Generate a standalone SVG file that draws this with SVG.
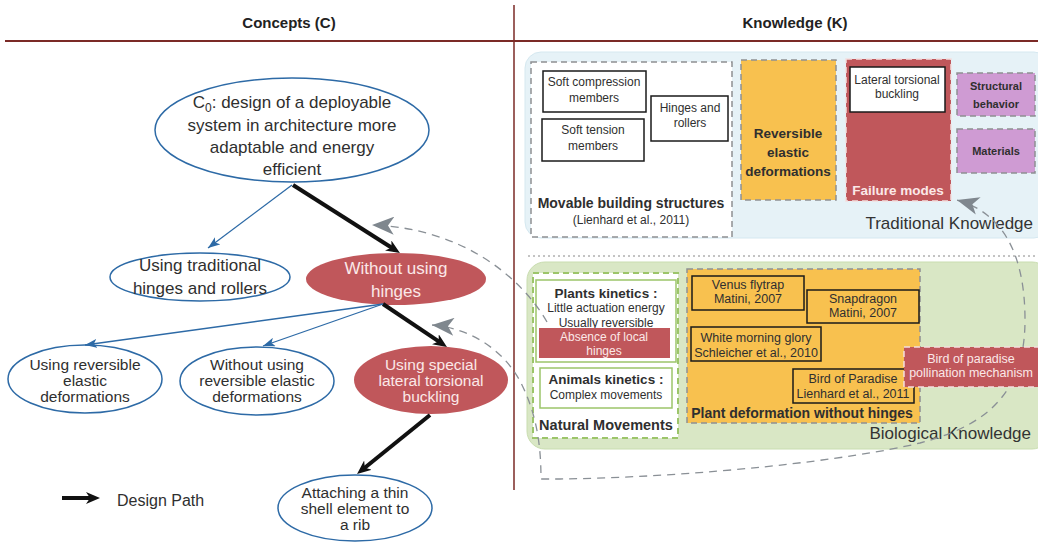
<svg xmlns="http://www.w3.org/2000/svg" width="1038" height="543" viewBox="0 0 1038 543">
<style>
text{font-family:"Liberation Sans",Arial,sans-serif;fill:#2f2f2f;text-anchor:middle}
.hd{font-size:15px;font-weight:bold;fill:#222}
.el{font-size:17px}
.el2{font-size:15.5px}
.sm{font-size:12px}
.om{font-size:12.5px}
.bd{font-size:13.5px;font-weight:bold}
.big{font-size:17px;text-anchor:end;fill:#333}
.wt{fill:#fbe8e8}
.ell{fill:#fff;stroke:#2d6aa6;stroke-width:1.5}
.ellr{fill:#c0575b;stroke:none}
.box{fill:#fff;stroke:#1a1a1a;stroke-width:1.5}
.obox{fill:#f8c14f;stroke:#1a1a1a;stroke-width:1.5}
.dg{stroke:#8e9093;stroke-width:1.5;stroke-dasharray:6 4}
.dw{stroke:#f3dede;stroke-width:1.5;stroke-dasharray:6 4}
.gbox{fill:#fff;stroke:#9cc56a;stroke-width:1.5}
.blk{stroke:#111;stroke-width:4;fill:none;marker-end:url(#mb)}
.blu{stroke:#2d6aa6;stroke-width:1.3;fill:none;marker-end:url(#mu)}
.gd{stroke:#8a9096;stroke-width:1.3;fill:none;stroke-dasharray:8 6}
</style>
<defs>
<marker id="mb" viewBox="0 0 14 12" refX="8" refY="6" markerWidth="14" markerHeight="12" markerUnits="userSpaceOnUse" orient="auto"><path d="M0,0 L14,6 L0,12 L4,6 z" fill="#111"/></marker>
<marker id="mu" viewBox="0 0 12 9" refX="12" refY="4.5" markerWidth="12" markerHeight="9" markerUnits="userSpaceOnUse" orient="auto"><path d="M0,0 L12,4.5 L0,9 L3,4.5 z" fill="#2d6aa6"/></marker>
<marker id="mg" viewBox="0 0 22 18" refX="22" refY="9" markerWidth="22" markerHeight="18" markerUnits="userSpaceOnUse" orient="auto-start-reverse"><path d="M22,9 L0,0 L6,9 L0,18 z" fill="#7f878e"/></marker>
</defs>
<rect width="1038" height="543" fill="#fff"/>

<g id="header">
<line x1="514" y1="5" x2="514" y2="490" stroke="#7b2a26" stroke-width="1.5"/>
<line x1="5" y1="41" x2="1038" y2="41" stroke="#7b2a26" stroke-width="1.8"/>
<text class="hd" x="289" y="28">Concepts (C)</text>
<text class="hd" x="795" y="28">Knowledge (K)</text>
</g>

<g id="traditional-region">
<rect x="525" y="52" width="525" height="186" rx="16" fill="#e6f2f7" stroke="#d5e8f0"/>
<text class="big" x="1033" y="229">Traditional Knowledge</text>
</g>
<line x1="528" y1="256" x2="1038" y2="256" stroke="#888" stroke-width="1" stroke-dasharray="2 3"/>
<g id="biological-region">
<rect x="527" y="262" width="523" height="187" rx="18" fill="#d9e7c5" stroke="#c9ddb0"/>
<text class="big" x="1031" y="439">Biological Knowledge</text>
</g>

<g id="movable">
<rect x="531" y="62" width="201" height="175" fill="#fff" class="dg"/>
<text class="bd" x="631" y="208" style="font-size:14px">Movable building structures</text>
<text class="sm" x="631" y="224">(Lienhard et al., 2011)</text>
</g>
<g id="soft-compression">
<rect class="box" x="543" y="71" width="103" height="41"/>
<text class="sm" x="594" y="86">Soft compression</text>
<text class="sm" x="594" y="102">members</text>
</g>
<g id="soft-tension">
<rect class="box" x="542" y="119" width="102" height="42"/>
<text class="sm" x="593" y="134">Soft tension</text>
<text class="sm" x="593" y="150">members</text>
</g>
<g id="hinges-rollers">
<rect class="box" x="651" y="96" width="77" height="45"/>
<text class="sm" x="690" y="112">Hinges and</text>
<text class="sm" x="690" y="127">rollers</text>
</g>
<g id="reversible-elastic">
<rect x="741" y="60" width="95" height="140" fill="#f8c14f" class="dg"/>
<text class="bd" x="788" y="138">Reversible</text>
<text class="bd" x="788" y="157">elastic</text>
<text class="bd" x="788" y="176">deformations</text>
</g>
<g id="failure-modes">
<rect x="846" y="59" width="105" height="142" fill="#c0575b" class="dw"/>
<text class="bd wt" x="898" y="195">Failure modes</text>
</g>
<g id="lateral-torsional">
<rect class="box" x="850" y="67" width="95" height="45"/>
<text class="sm" x="897" y="84">Lateral torsional</text>
<text class="sm" x="897" y="98">buckling</text>
</g>
<g id="structural-behavior">
<rect x="957" y="73" width="78" height="43" fill="#cf9bd3" class="dg"/>
<text class="bd" x="996" y="90" style="font-size:11px">Structural</text>
<text class="bd" x="996" y="108" style="font-size:11px">behavior</text>
</g>
<g id="materials">
<rect x="957" y="129" width="78" height="44" fill="#cf9bd3" class="dg"/>
<text class="bd" x="996" y="155" style="font-size:11px">Materials</text>
</g>

<g id="natural-movements">
<rect x="533" y="273" width="145" height="165" fill="#fff" stroke="#9cc56a" stroke-width="2" stroke-dasharray="6 4"/>
<text class="bd" x="606" y="430" style="font-size:14.5px">Natural Movements</text>
</g>
<g id="plants-kinetics">
<rect class="gbox" x="536" y="280" width="140" height="82"/>
<text class="bd" x="606" y="298">Plants kinetics :</text>
<text class="sm" x="606" y="312">Little actuation energy</text>
<text class="sm" x="606" y="327">Usually reversible</text>
</g>
<g id="absence-hinges">
<rect x="539" y="328" width="131" height="30" fill="#c0575b"/>
<text class="sm wt" x="604" y="341">Absence of local</text>
<text class="sm wt" x="604" y="355">hinges</text>
</g>
<g id="animals-kinetics">
<rect class="gbox" x="540" y="368" width="132" height="40"/>
<text class="bd" x="606" y="384">Animals kinetics :</text>
<text class="sm" x="606" y="399">Complex movements</text>
</g>
<g id="plant-deformation">
<rect x="687" y="269" width="233" height="154" fill="#f8c14f" class="dg"/>
<text class="bd" x="802" y="418" style="font-size:14px">Plant deformation without hinges</text>
</g>
<g id="venus-flytrap">
<rect class="obox" x="692" y="276" width="112" height="34"/>
<text class="om" x="748" y="289">Venus flytrap</text>
<text class="om" x="748" y="303">Matini, 2007</text>
</g>
<g id="snapdragon">
<rect class="obox" x="807" y="290" width="112" height="33"/>
<text class="om" x="863" y="303">Snapdragon</text>
<text class="om" x="863" y="317">Matini, 2007</text>
</g>
<g id="white-morning-glory">
<rect class="obox" x="691" y="327" width="130" height="34"/>
<text class="om" x="756" y="342">White morning glory</text>
<text class="om" x="756" y="357">Schleicher et al., 2010</text>
</g>
<g id="bird-of-paradise">
<rect class="obox" x="793" y="369" width="121" height="34"/>
<text class="om" x="853" y="383">Bird of Paradise</text>
<text class="om" x="853" y="398">Lienhard et al., 2011</text>
</g>

<g id="c0">
<ellipse class="ell" cx="292" cy="130" rx="137" ry="52"/>
<text class="el" x="292" y="108">C<tspan font-size="12" dy="4">0</tspan><tspan dy="-4">: design of a deployable</tspan></text>
<text class="el" x="292" y="131">system in architecture more</text>
<text class="el" x="292" y="153">adaptable and energy</text>
<text class="el" x="292" y="175">efficient</text>
</g>
<g id="traditional-hinges">
<ellipse class="ell" cx="200" cy="277" rx="90" ry="24"/>
<text class="el" x="200" y="271">Using traditional</text>
<text class="el" x="200" y="294">hinges and rollers</text>
</g>
<g id="without-hinges">
<ellipse class="ellr" cx="396" cy="279" rx="90" ry="26"/>
<text class="el wt" x="396" y="274">Without using</text>
<text class="el wt" x="396" y="297">hinges</text>
</g>
<g id="reversible">
<ellipse class="ell" cx="85" cy="379" rx="77" ry="34"/>
<text class="el2" x="85" y="370">Using reversible</text>
<text class="el2" x="85" y="386">elastic</text>
<text class="el2" x="85" y="402">deformations</text>
</g>
<g id="without-reversible">
<ellipse class="ell" cx="257" cy="381" rx="77" ry="34"/>
<text class="el2" x="257" y="370">Without using</text>
<text class="el2" x="257" y="386">reversible elastic</text>
<text class="el2" x="257" y="402">deformations</text>
</g>
<g id="special-buckling">
<ellipse class="ellr" cx="431" cy="380" rx="77" ry="34"/>
<text class="el2 wt" x="431" y="370">Using special</text>
<text class="el2 wt" x="431" y="386">lateral torsional</text>
<text class="el2 wt" x="431" y="402">buckling</text>
</g>
<g id="attaching-shell">
<ellipse class="ell" cx="355" cy="508" rx="77" ry="33"/>
<text class="el2" x="355" y="498">Attaching a thin</text>
<text class="el2" x="355" y="514">shell element to</text>
<text class="el2" x="355" y="530">a rib</text>
</g>
<g id="legend">
<line class="blk" x1="62" y1="498" x2="94" y2="498"/>
<text x="117" y="506" style="text-anchor:start;font-size:16px">Design Path</text>
</g>

<g id="connectors">
<line class="blk" x1="293" y1="185" x2="394.9" y2="249.8"/>
<line class="blk" x1="383" y1="304" x2="442" y2="343.7"/>
<line class="blk" x1="430" y1="415" x2="361.7" y2="470.2"/>
<line class="blu" x1="292" y1="185" x2="208" y2="248"/>
<line class="blu" x1="383" y1="304" x2="85" y2="345"/>
<line class="blu" x1="383" y1="304" x2="263" y2="346"/>
<path class="gd" d="M547,322 C520,275 460,228 372,225" marker-end="url(#mg)"/>
<path class="gd" d="M432,325 C470,328 505,350 522,385 C535,412 541,440 541,479 L560,479 C700,477 850,460 920,443 C990,425 1025,390 1025,320 C1025,250 1000,212 957,200" marker-start="url(#mg)" marker-end="url(#mg)"/>
</g>

<g id="pollination">
<rect x="904" y="347" width="140" height="40" fill="#c0575b" class="dw"/>
<text class="om wt" x="971" y="363">Bird of paradise</text>
<text class="om wt" x="971" y="377">pollination mechanism</text>
</g>
</svg>
